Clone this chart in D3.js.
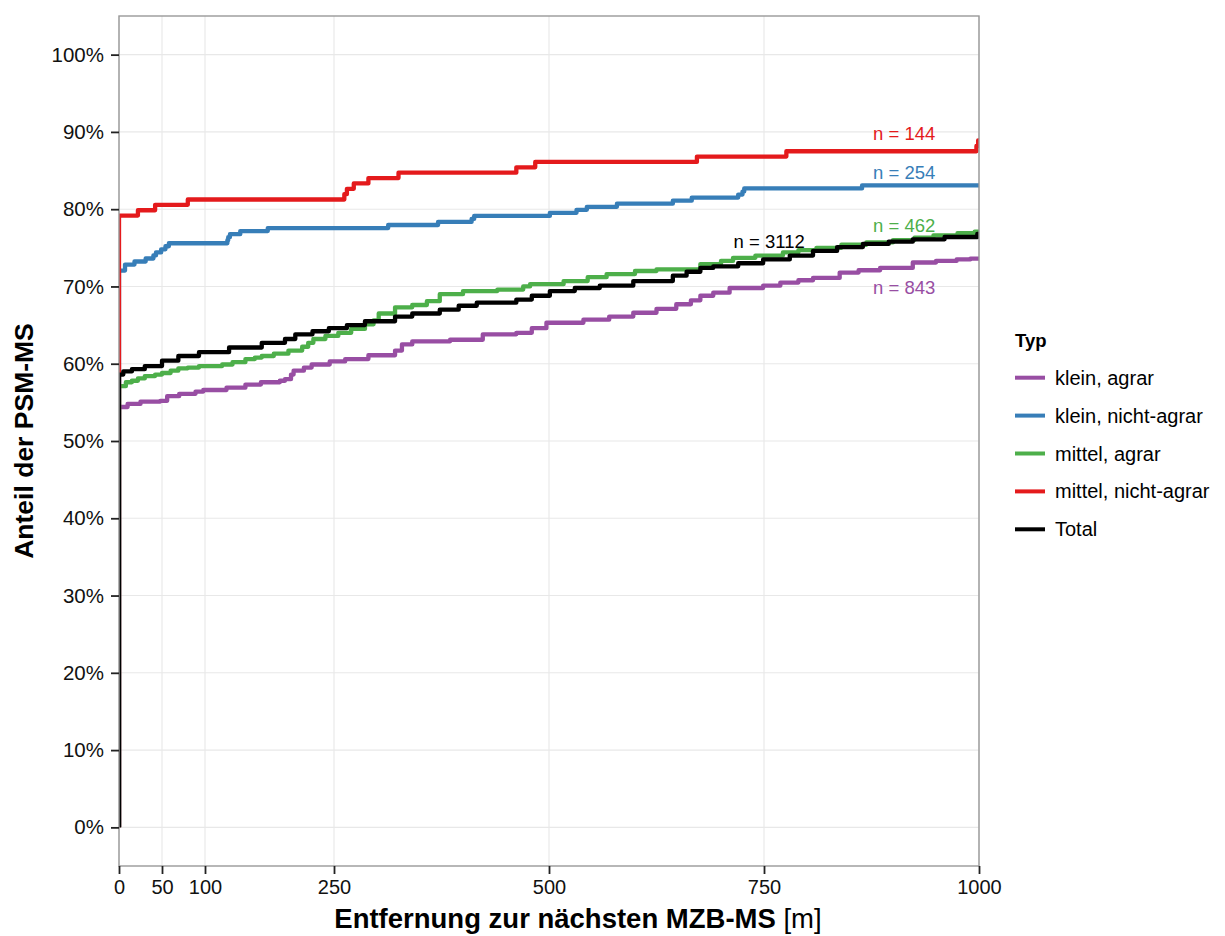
<!DOCTYPE html>
<html>
<head>
<meta charset="utf-8">
<script src="https://cdn.jsdelivr.net/npm/d3@7"></script>
<style>
  html, body { margin: 0; padding: 0; background: #fff; }
  svg { display: block; font-family: "Liberation Sans", Arial, Helvetica, sans-serif; }
</style>
</head>
<body>
<svg id="chart" width="1225" height="936"></svg>
<script>
// ---------------- data ----------------
const seriesNames = ["klein, agrar", "klein, nicht-agrar", "mittel, agrar", "mittel, nicht-agrar", "Total"];
const seriesColors = ["#984EA3", "#377EB8", "#4DAF4A", "#E41A1C", "#000000"];
const seriesN = [843, 254, 462, 144, 3112];

// ECDF step points: [distance m, share %]
const kleinAgrar = [[0,0],[0,54.4],[10,54.8],[25,55.1],[48,55.2],[56,55.8],[70,56.1],[89,56.4],[98,56.6],[125,56.9],[147,57.3],[165,57.6],[187,57.8],[193,58.0],[200,58.6],[203,59.1],[215,59.5],[224,59.9],[245,60.3],[263,60.6],[290,61.1],[321,61.7],[329,62.5],[341,62.9],[385,63.1],[423,63.8],[462,64.0],[480,64.6],[497,65.3],[540,65.7],[570,66.1],[598,66.6],[625,67.1],[648,67.7],[665,68.2],[676,68.8],[691,69.2],[710,69.8],[749,70.1],[769,70.5],[790,70.8],[807,71.1],[838,71.8],[860,72.1],[885,72.4],[923,73.1],[950,73.3],[974,73.5],[990,73.6]];
const kleinNichtAgrar = [[0,0],[0,72.05],[7,72.83],[18,73.23],[31,73.62],[40,74.02],[43,74.41],[49,74.8],[54,75.2],[58,75.59],[126,75.98],[127,76.38],[129,76.77],[141,77.17],[173,77.56],[313,77.95],[371,78.35],[410,78.74],[413,79.13],[501,79.53],[532,79.92],[544,80.31],[579,80.71],[644,81.1],[666,81.5],[720,81.89],[725,82.28],[727,82.68],[864,83.07]];
const mittelAgrar = [[0,0],[0,57.1],[8,57.6],[15,57.8],[22,58.1],[30,58.4],[42,58.6],[50,58.8],[60,59.1],[69,59.4],[80,59.5],[93,59.7],[120,59.9],[132,60.2],[147,60.6],[158,60.8],[166,61.0],[180,61.3],[197,61.7],[213,62.2],[220,62.7],[226,63.2],[240,63.6],[255,64.0],[270,64.5],[286,65.1],[296,65.6],[302,66.5],[321,67.3],[341,67.6],[358,68.1],[373,69.0],[400,69.4],[440,69.6],[470,70.0],[478,70.3],[517,70.7],[545,71.2],[567,71.6],[600,72.0],[625,72.2],[676,72.9],[700,73.3],[714,73.7],[740,74.0],[772,74.4],[790,74.7],[811,75.0],[840,75.4],[869,75.7],[900,76.0],[925,76.3],[947,76.6],[975,76.9],[995,77.1]];
const mittelNichtAgrar = [[0,0],[0,79.17],[22,79.86],[42,80.56],[80,81.25],[262,81.94],[265,82.64],[273,83.33],[290,84.03],[325,84.72],[462,85.42],[484,86.11],[672,86.81],[776,87.5],[997,88.19],[999,88.89]];
const total = [[0,0],[0,58.6],[5,59.0],[15,59.3],[30,59.7],[50,60.4],[69,61.0],[93,61.5],[128,62.1],[166,62.7],[193,63.2],[205,63.8],[225,64.2],[244,64.6],[265,65.0],[286,65.5],[321,66.1],[341,66.5],[373,67.0],[395,67.5],[416,67.9],[462,68.3],[480,68.8],[501,69.4],[530,69.8],[559,70.1],[598,70.7],[644,71.4],[660,71.9],[676,72.4],[691,72.6],[720,73.0],[749,73.5],[780,74.0],[807,74.6],[835,75.1],[865,75.5],[895,75.8],[923,76.1],[960,76.4],[998,76.8]];

// n-label positions (data units)
const labelX = [913, 913, 913, 913, 756];
const labelY = [69.9, 84.8, 77.9, 89.8, 75.8];

const xTicks = [0, 50, 100, 250, 500, 750, 1000];
const yTicks = [0, 10, 20, 30, 40, 50, 60, 70, 80, 90, 100];

// ---------------- layout ----------------
const svg = d3.select("#chart");
const panel = { left: 119, right: 979, top: 16, bottom: 866 };

const x = d3.scaleLinear().domain([0, 1000]).range([panel.left, panel.right]);
const y = d3.scaleLinear().domain([-5, 105]).range([panel.bottom, panel.top]);

svg.append("rect").attr("width", 1225).attr("height", 936).attr("fill", "#fff");

// clip
svg.append("defs").append("clipPath").attr("id", "clip")
  .append("rect")
  .attr("x", panel.left).attr("y", panel.top)
  .attr("width", panel.right - panel.left).attr("height", panel.bottom - panel.top);

// grid
const grid = svg.append("g");
grid.selectAll("line.v").data(xTicks).join("line")
  .attr("x1", d => x(d)).attr("x2", d => x(d))
  .attr("y1", panel.top).attr("y2", panel.bottom)
  .attr("stroke", "#e8e8e8").attr("stroke-width", 1.1);
grid.selectAll("line.h").data(yTicks).join("line")
  .attr("x1", panel.left).attr("x2", panel.right)
  .attr("y1", d => y(d)).attr("y2", d => y(d))
  .attr("stroke", "#e8e8e8").attr("stroke-width", 1.1);

// series
const allSeries = [kleinAgrar, kleinNichtAgrar, mittelAgrar, mittelNichtAgrar, total];
const line = d3.line().x(d => x(d[0])).y(d => y(d[1])).curve(d3.curveStepAfter);
const lines = svg.append("g").attr("clip-path", "url(#clip)");
allSeries.forEach((s, i) => {
  // extend to panel right edge (ECDF padding to +Inf)
  const pts = s.concat([[1000, s[s.length - 1][1]]]);
  lines.append("path")
    .attr("d", line(pts))
    .attr("fill", "none")
    .attr("stroke", seriesColors[i])
    .attr("stroke-width", 4.3)
    .attr("stroke-linejoin", "round");
});

// n labels
svg.append("g").selectAll("text").data(seriesN).join("text")
  .attr("x", (d, i) => x(labelX[i]))
  .attr("y", (d, i) => y(labelY[i]))
  .attr("text-anchor", "middle")
  .attr("dominant-baseline", "central")
  .attr("font-size", 18.5)
  .attr("fill", (d, i) => seriesColors[i])
  .text(d => "n = " + d);

// panel border
svg.append("rect")
  .attr("x", panel.left).attr("y", panel.top)
  .attr("width", panel.right - panel.left).attr("height", panel.bottom - panel.top)
  .attr("fill", "none").attr("stroke", "#999").attr("stroke-width", 1.4);

// axes
const xAxis = svg.append("g").attr("transform", `translate(0,${panel.bottom})`)
  .call(d3.axisBottom(x).tickValues(xTicks).tickSize(8).tickPadding(6).tickFormat(d3.format("d")));
xAxis.select(".domain").remove();
xAxis.selectAll(".tick line").attr("stroke", "#222").attr("stroke-width", 1.8);
xAxis.selectAll(".tick text").attr("font-size", 20).attr("fill", "#111")
  .attr("font-family", "'Liberation Sans', Arial, sans-serif");

const yAxis = svg.append("g").attr("transform", `translate(${panel.left},0)`)
  .call(d3.axisLeft(y).tickValues(yTicks).tickSize(8).tickPadding(7).tickFormat(d => d + "%"));
yAxis.select(".domain").remove();
yAxis.selectAll(".tick line").attr("stroke", "#222").attr("stroke-width", 1.8);
yAxis.selectAll(".tick text").attr("font-size", 20.5).attr("fill", "#111")
  .attr("font-family", "'Liberation Sans', Arial, sans-serif");

// axis titles
const xt = svg.append("text")
  .attr("x", 578).attr("y", 928)
  .attr("text-anchor", "middle")
  .attr("font-size", 27.5).attr("fill", "#000");
xt.append("tspan").attr("font-weight", "bold").text("Entfernung zur nächsten MZB-MS ");
xt.append("tspan").attr("font-weight", "normal").text("[m]");

svg.append("text")
  .attr("transform", "translate(33,441) rotate(-90)")
  .attr("text-anchor", "middle")
  .attr("font-size", 26.5).attr("font-weight", "bold").attr("fill", "#000")
  .text("Anteil der PSM-MS");

// legend
const legend = svg.append("g");
legend.append("text").attr("x", 1015).attr("y", 347)
  .attr("font-size", 18.5).attr("font-weight", "bold").text("Typ");
const keyY = i => 377.7 + i * 37.9;
legend.selectAll("line.key").data(seriesNames).join("line")
  .attr("x1", 1015).attr("x2", 1045)
  .attr("y1", (d, i) => keyY(i)).attr("y2", (d, i) => keyY(i))
  .attr("stroke", (d, i) => seriesColors[i]).attr("stroke-width", 4);
legend.selectAll("text.lab").data(seriesNames).join("text")
  .attr("x", 1055).attr("y", (d, i) => keyY(i))
  .attr("dominant-baseline", "central")
  .attr("font-size", 20).attr("fill", "#000")
  .text(d => d);
</script>
</body>
</html>
